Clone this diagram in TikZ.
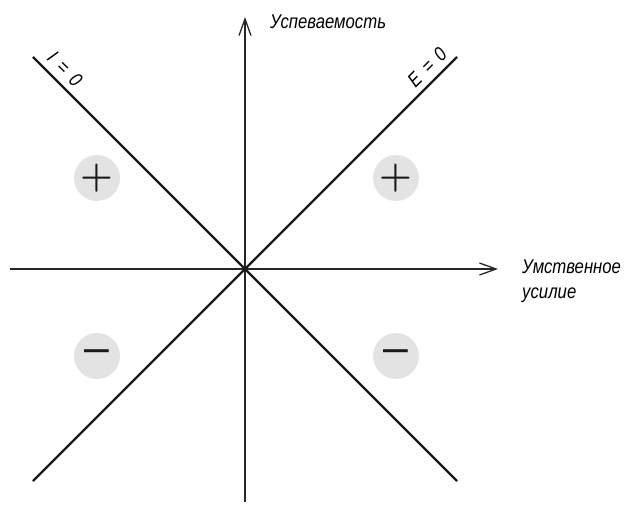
\documentclass[tikz,border=0pt]{standalone}
\usepackage{fontspec}
\setmainfont{Liberation Sans}
\newfontfamily\axfont{Liberation Sans}[FakeStretch=0.84]
\newfontfamily\signfont{Latin Modern Roman}
\usetikzlibrary{arrows.meta}
\tikzset{
  axis/.style={line width=1.1pt, draw=black!85, -{Straight Barb[length=5mm, width=3.6mm, line width=1.1pt]}},
  zeroline/.style={line width=2pt, draw=black!90, line cap=butt},
  signdisc/.style={circle, fill=black!11, minimum size=1.38cm, inner sep=0pt},
  axislabel/.style={font=\axfont\itshape\fontsize{17}{21.3}\selectfont, inner sep=0pt, align=left},
  linelabel/.style={font=\axfont\itshape\fontsize{17}{19}\selectfont, inner sep=5pt},
  plussign/.style={font=\signfont\bfseries\fontsize{32}{32}\selectfont, text=black!90},
  minussign/.style={font=\fontsize{38}{38}\selectfont, text=black!90},
}

\begin{document}
\begin{tikzpicture}[x=0.03cm, y=0.03cm]
\useasboundingbox (0,0) rectangle (626,504);
% axes
\coordinate (xstart) at (10,235);
\coordinate (xend) at (498,235);
\coordinate (ystart) at (245,2);
\coordinate (yend) at (245,487);
\draw[axis] (xstart) -- (xend);
\draw[axis] (ystart) -- (yend);
\node[axislabel, anchor=base west] (ylabel) at (270,475) {Успеваемость};
\node[axislabel, anchor=north west] (xlabel) at (522,244) {Умственное\\усилие};
% zero lines
\coordinate (itop) at (33,447);
\coordinate (ibot) at (457,23);
\coordinate (ebot) at (33,23);
\coordinate (etop) at (457,447);
\draw[zeroline] (itop) -- (ibot) node[linelabel, pos=0.052, sloped, above] (ilabel) {I \,=\, 0};
\draw[zeroline] (ebot) -- (etop) node[linelabel, pos=0.953, sloped, above] (elabel) {E \,=\, 0};
% signs
\node[signdisc, plussign] (pluswest) at (97,326) {+};
\node[signdisc, plussign] (pluseast) at (396,326) {+};
\node[signdisc, minussign] (minuswest) at (97,148) {–};
\node[signdisc, minussign] (minuseast) at (396,148) {–};
\end{tikzpicture}
\end{document}
